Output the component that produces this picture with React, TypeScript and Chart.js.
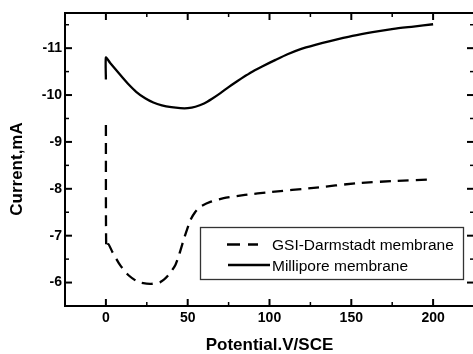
import { useEffect, useRef } from "react";
import { Chart, registerables } from "chart.js";

Chart.register(...registerables);

// ---- data ----
const milliporePotential = [0, 0, 2.5, 5.6, 9.5, 13.8, 18.5, 24, 29, 34.2, 40, 45.5, 50, 54.7, 60, 64.9, 70, 75, 80, 85.3, 90, 95.5, 103.7, 111, 119, 128, 137, 150.7, 163, 175.8, 188, 200];
const milliporeCurrent = [-10.33, -10.80, -10.69, -10.56, -10.40, -10.23, -10.07, -9.93, -9.84, -9.78, -9.74, -9.72, -9.72, -9.75, -9.82, -9.92, -10.04, -10.17, -10.29, -10.41, -10.51, -10.61, -10.75, -10.87, -10.98, -11.07, -11.15, -11.26, -11.34, -11.41, -11.46, -11.51];

const gsiPotential = [0, 0.2, 1.5, 4, 8.7, 14, 19.9, 27, 33.2, 38, 42.4, 45, 47.5, 51.6, 54.5, 57.7, 63.8, 72, 85, 100.6, 127, 153.7, 178, 200];
const gsiCurrent = [-9.36, -6.74, -6.82, -6.65, -6.37, -6.15, -6.01, -5.97, -6.01, -6.15, -6.37, -6.62, -6.91, -7.33, -7.5, -7.62, -7.72, -7.8, -7.87, -7.93, -8.02, -8.12, -8.17, -8.2];

const xMajorTicks = [0, 50, 100, 150, 200];
const xMinorTicks = [-25, 25, 75, 125, 175, 225];
const yMajorTicks = [-11, -10, -9, -8, -7, -6];
const yMinorTicks = [-11.5, -10.5, -9.5, -8.5, -7.5, -6.5];

const seriesLabels = ["GSI-Darmstadt membrane", "Millipore membrane"];
const xTitle = "Potential.V/SCE";
const yTitle = "Current,mA";

const FONT = "'Liberation Sans', Arial, Helvetica, sans-serif";

const framePlugin = {
  id: "frameTicks",
  afterDraw(chart: any) {
    const { ctx, chartArea, scales } = chart;
    const { left, right, top, bottom } = chartArea;
    const xs = scales.x;
    const ys = scales.y;
    ctx.save();
    ctx.strokeStyle = "#000";
    ctx.lineWidth = 2;
    ctx.strokeRect(left, top, right - left, bottom - top);
    const seg = (x1: number, y1: number, x2: number, y2: number) => {
      ctx.beginPath();
      ctx.moveTo(x1, y1);
      ctx.lineTo(x2, y2);
      ctx.stroke();
    };
    ctx.lineWidth = 2;
    xMajorTicks.forEach((v) => {
      const p = xs.getPixelForValue(v);
      seg(p, bottom, p, bottom - 7);
      seg(p, top, p, top + 7);
    });
    yMajorTicks.forEach((v) => {
      const p = ys.getPixelForValue(v);
      seg(left, p, left + 7, p);
      seg(right, p, right - 7, p);
    });
    ctx.lineWidth = 1.5;
    xMinorTicks.forEach((v) => {
      const p = xs.getPixelForValue(v);
      seg(p, bottom, p, bottom - 4);
      seg(p, top, p, top + 4);
    });
    yMinorTicks.forEach((v) => {
      const p = ys.getPixelForValue(v);
      seg(left, p, left + 4, p);
      seg(right, p, right - 4, p);
    });

    // y axis title
    ctx.fillStyle = "#000";
    ctx.font = `bold 17px ${FONT}`;
    ctx.textAlign = "center";
    ctx.textBaseline = "middle";
    ctx.save();
    ctx.translate(17, 169);
    ctx.rotate(-Math.PI / 2);
    ctx.fillText(yTitle, 0, 0);
    ctx.restore();

    // legend
    ctx.strokeStyle = "#333";
    ctx.lineWidth = 1.3;
    ctx.strokeRect(200.5, 227.5, 263, 52);
    const ds = chart.data.datasets;
    ctx.font = `15.5px ${FONT}`;
    ctx.textAlign = "left";
    ctx.textBaseline = "alphabetic";
    // row 1: dashed
    ctx.strokeStyle = ds[0].borderColor;
    ctx.lineWidth = ds[0].borderWidth;
    ctx.setLineDash([13, 8]);
    seg(227, 244.5, 258, 244.5);
    ctx.setLineDash([]);
    ctx.fillText(ds[0].label, 272, 250);
    // row 2: solid
    ctx.strokeStyle = ds[1].borderColor;
    ctx.lineWidth = ds[1].borderWidth;
    seg(228, 265, 270, 265);
    ctx.fillText(ds[1].label, 272, 270.5);
    ctx.restore();
  },
};

export default function App() {
  const ref = useRef<HTMLCanvasElement | null>(null);

  useEffect(() => {
    if (!ref.current) return;
    Chart.defaults.font.family = FONT;
    const chart = new Chart(ref.current, {
      type: "scatter",
      data: {
        datasets: [
          {
            label: seriesLabels[0],
            data: gsiPotential.map((x, i) => ({ x, y: gsiCurrent[i] })),
            showLine: true,
            borderColor: "#000",
            borderWidth: 2.3,
            borderDash: [11, 7],
            pointRadius: 0,
            tension: 0.2,
          },
          {
            label: seriesLabels[1],
            data: milliporePotential.map((x, i) => ({ x, y: milliporeCurrent[i] })),
            showLine: true,
            borderColor: "#000",
            borderWidth: 2.3,
            pointRadius: 0,
            tension: 0.2,
          },
        ],
      },
      options: {
        animation: false,
        responsive: false,
        devicePixelRatio: 1,
        layout: { padding: { left: 0, top: 13, right: 6, bottom: 0 } },
        plugins: { legend: { display: false }, tooltip: { enabled: false } },
        scales: {
          x: {
            type: "linear",
            min: -25,
            max: 225,
            afterBuildTicks: (s: any) => {
              s.ticks = xMajorTicks.map((v) => ({ value: v }));
            },
            afterFit: (s: any) => {
              s.height = 48;
            },
            grid: { display: false, drawTicks: false },
            border: { display: false },
            ticks: {
              color: "#000",
              padding: 4,
              font: { size: 14, weight: "bold" },
              maxRotation: 0,
            },
            title: {
              display: true,
              text: xTitle,
              color: "#000",
              font: { size: 17, weight: "bold", lineHeight: 1 },
              padding: { top: 0, bottom: 0 },
            },
          },
          y: {
            type: "linear",
            reverse: true,
            min: -11.75,
            max: -5.5,
            afterBuildTicks: (s: any) => {
              s.ticks = yMajorTicks.map((v) => ({ value: v }));
            },
            afterFit: (s: any) => {
              s.width = 65;
            },
            grid: { display: false, drawTicks: false },
            border: { display: false },
            ticks: {
              color: "#000",
              padding: 3,
              font: { size: 14, weight: "bold" },
            },
          },
        },
      },
      plugins: [framePlugin],
    } as any);
    return () => chart.destroy();
  }, []);

  return (
    <div
      style={{
        position: "fixed",
        left: 0,
        top: 0,
        width: 473,
        height: 354,
        overflow: "hidden",
        background: "#fff",
      }}
    >
      <canvas ref={ref} width={480} height={354} style={{ display: "block", width: 480, height: 354 }} />
    </div>
  );
}
